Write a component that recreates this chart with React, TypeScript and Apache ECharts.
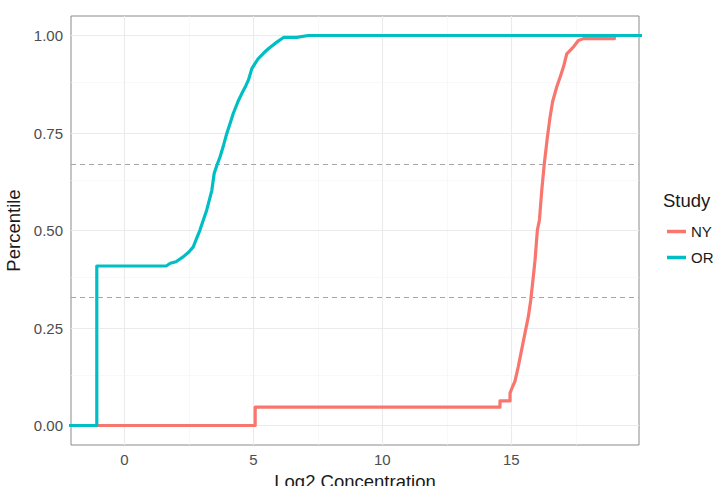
import React, { useEffect, useRef } from "react";
import * as echarts from "echarts";

const xTicks = [0, 5, 10, 15];
const xMinorGrid = [-2.5, 2.5, 7.5, 12.5, 17.5];
const yTicks = [0, 0.25, 0.5, 0.75, 1];
const yMinorGrid = [0.125, 0.375, 0.625, 0.875];
const refLines = [1 / 3, 2 / 3];

// ECDF outline [log2 concentration, percentile]; first/last points stand for -Inf/+Inf padding
const nyX = [-8, 5.07, 5.07, 14.56, 14.56, 14.95, 14.95, 15.05, 15.14, 15.27, 15.4, 15.53, 15.66, 15.75, 15.85, 15.92, 16.01, 16.09, 16.18, 16.28, 16.4, 16.5, 16.6, 16.76, 16.89, 17.02, 17.15, 17.4, 17.6, 17.79, 19.0, 19.0, 30];
const nyY = [0, 0, 0.047, 0.047, 0.063, 0.063, 0.083, 0.1, 0.113, 0.151, 0.194, 0.237, 0.279, 0.32, 0.38, 0.424, 0.501, 0.527, 0.603, 0.672, 0.74, 0.79, 0.83, 0.868, 0.893, 0.919, 0.953, 0.97, 0.987, 0.992, 0.992, 1.0, 1.0];
const orX = [-8, -1.07, -1.07, 1.62, 1.78, 2.0, 2.29, 2.5, 2.67, 2.8, 2.93, 3.05, 3.19, 3.3, 3.39, 3.48, 3.6, 3.71, 3.85, 3.97, 4.1, 4.22, 4.4, 4.55, 4.7, 4.81, 4.94, 5.19, 5.4, 5.58, 5.91, 6.17, 6.68, 7.13, 30];
const orY = [0, 0, 0.409, 0.409, 0.416, 0.42, 0.433, 0.445, 0.458, 0.48, 0.501, 0.525, 0.552, 0.58, 0.603, 0.646, 0.67, 0.689, 0.72, 0.749, 0.775, 0.8, 0.83, 0.851, 0.87, 0.886, 0.915, 0.941, 0.955, 0.966, 0.983, 0.995, 0.995, 1.0, 1.0];

const studies = ["NY", "OR"];
const colors = ["#F8766D", "#00BFC4"];

const FONT = "'Liberation Sans', Arial, Helvetica, sans-serif";

export default function App() {
  const ref = useRef<HTMLDivElement>(null);
  useEffect(() => {
    if (!ref.current) return;
    const chart = echarts.init(ref.current, null, { renderer: "svg" });
    const major = { color: "#EBEBEB", width: 1.1, type: "solid" };
    const minor = { color: "#F3F3F3", width: 0.6, type: "solid" };
    const gridData: any[] = [];
    xTicks.forEach((v) => gridData.push({ xAxis: v, lineStyle: major }));
    xMinorGrid.forEach((v) => gridData.push({ xAxis: v, lineStyle: minor }));
    yTicks.forEach((v) => gridData.push({ yAxis: v, lineStyle: major }));
    yMinorGrid.forEach((v) => gridData.push({ yAxis: v, lineStyle: minor }));

    const option: any = {
      animation: false,
      textStyle: { fontFamily: FONT },
      grid: {
        left: 71,
        right: 84,
        top: 16,
        bottom: 41,
        containLabel: false,
        outerBoundsMode: "none",
        show: true,
        borderColor: "#8a8a8a",
        borderWidth: 1,
        backgroundColor: "#fff",
      },
      title: {
        text: "Study",
        left: 663,
        top: 191,
        textStyle: { fontSize: 18.5, fontWeight: "normal", color: "#1a1a1a", fontFamily: FONT },
        padding: 0,
      },
      legend: {
        data: studies,
        orient: "vertical",
        left: 667,
        top: 224,
        icon: "rect",
        itemWidth: 19,
        itemHeight: 3.5,
        itemGap: 11,
        padding: 0,
        textStyle: { fontSize: 15, color: "#1a1a1a", fontFamily: FONT },
      },
      xAxis: {
        type: "value",
        min: -2.07,
        max: 19.95,
        name: "Log2 Concentration",
        nameLocation: "middle",
        nameGap: 23,
        nameTextStyle: { fontSize: 18.5, color: "#1a1a1a", fontFamily: FONT, verticalAlign: "top" },
        axisLine: { show: false },
        splitLine: { show: false },
        axisTick: { show: true, length: 4, customValues: xTicks, lineStyle: { color: "#555" } },
        axisLabel: {
          customValues: xTicks,
          fontSize: 15,
          color: "#4D4D4D",
          margin: 7,
          fontFamily: FONT,
        },
      },
      yAxis: {
        type: "value",
        min: -0.05,
        max: 1.05,
        name: "Percentile",
        nameLocation: "middle",
        nameGap: 44,
        nameTextStyle: { fontSize: 18.5, color: "#1a1a1a", fontFamily: FONT },
        axisLine: { show: false },
        splitLine: { show: false },
        axisTick: { show: true, length: 4, customValues: yTicks, lineStyle: { color: "#555" } },
        axisLabel: {
          customValues: yTicks,
          formatter: (v: number) => v.toFixed(2),
          fontSize: 15,
          color: "#4D4D4D",
          margin: 8,
          fontFamily: FONT,
        },
      },
      series: [
        {
          name: "_grid",
          type: "line",
          data: [],
          z: 1,
          silent: true,
          markLine: {
            z: 1,
            silent: true,
            symbol: ["none", "none"],
            label: { show: false },
            data: gridData,
          },
        },
        {
          name: "_ref",
          type: "line",
          data: [],
          z: 2,
          silent: true,
          markLine: {
            z: 2,
            silent: true,
            symbol: ["none", "none"],
            label: { show: false },
            lineStyle: { color: "#A6A6A6", width: 1, type: [5, 4] },
            data: refLines.map((v) => ({ yAxis: v })),
          },
        },
        {
          name: studies[0],
          type: "line",
          showSymbol: false,
          z: 10,
          clip: true,
          color: colors[0],
          lineStyle: { color: colors[0], width: 3.2, join: "round" },
          data: nyX.map((x, i) => [x, nyY[i]]),
        },
        {
          name: studies[1],
          type: "line",
          showSymbol: false,
          z: 11,
          clip: true,
          color: colors[1],
          lineStyle: { color: colors[1], width: 3.2, join: "round" },
          data: orX.map((x, i) => [x, orY[i]]),
        },
      ],
    };
    chart.setOption(option);
    return () => chart.dispose();
  }, []);
  return <div ref={ref} style={{ width: 723, height: 486, position: "absolute", left: 0, top: 0 }} />;
}
